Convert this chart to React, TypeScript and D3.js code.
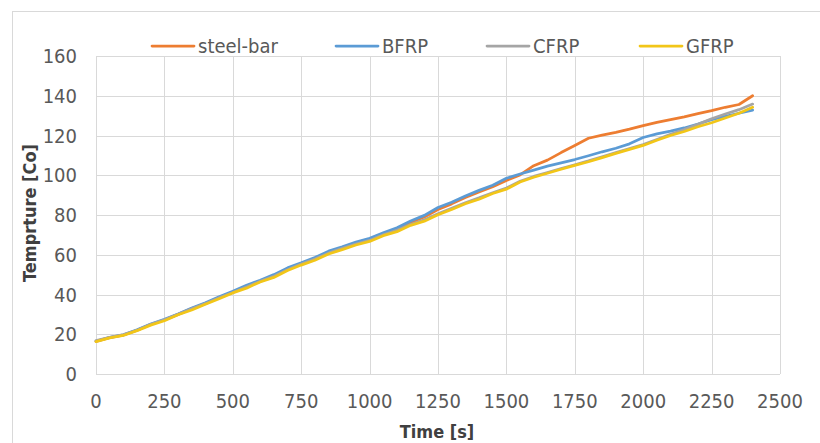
import React, { useRef, useEffect } from 'react';
import * as d3 from 'd3';

// time axis, seconds
const times = [0, 50, 100, 150, 200, 250, 300, 350, 400, 450, 500, 550, 600, 650, 700, 750, 800, 850, 900, 950,
  1000, 1050, 1100, 1150, 1200, 1250, 1300, 1350, 1400, 1450, 1500, 1550, 1600, 1650, 1700, 1750, 1800, 1850, 1900, 1950,
  2000, 2050, 2100, 2150, 2200, 2250, 2300, 2350, 2400];

const steelBar = [16.4, 18.3, 19.6, 22.0, 24.9, 27.2, 30.0, 32.9, 35.5, 38.5, 41.2, 44.2, 46.8, 49.6, 52.9, 55.6, 58.2, 61.2, 63.6, 65.9,
  67.8, 70.5, 73.0, 76.2, 79.0, 82.8, 85.6, 88.8, 91.6, 94.2, 97.4, 100.2, 104.8, 107.6, 111.4, 115.0, 118.6, 120.2, 121.6, 123.2,
  125.0, 126.6, 128.0, 129.4, 131.0, 132.5, 134.2, 135.6, 140.0];
const bfrp = [16.5, 18.4, 19.7, 22.2, 25.1, 27.5, 30.2, 33.2, 35.8, 38.8, 41.6, 44.6, 47.2, 50.0, 53.4, 55.9, 58.6, 61.8, 64.0, 66.4,
  68.3, 71.0, 73.6, 77.0, 79.8, 83.8, 86.4, 89.6, 92.4, 95.0, 98.5, 100.6, 102.6, 104.6, 106.2, 107.9, 109.8, 111.8, 113.6, 115.8,
  119.0, 120.8, 122.2, 123.8, 125.8, 128.0, 129.6, 131.2, 132.8];
const cfrp = [16.8, 18.5, 19.8, 22.0, 25.0, 27.3, 30.0, 32.8, 35.4, 38.4, 41.0, 43.8, 46.6, 49.2, 52.4, 55.3, 57.8, 60.8, 63.2, 65.4,
  67.2, 70.0, 72.3, 75.2, 77.6, 80.6, 83.4, 86.2, 88.6, 91.2, 93.6, 97.0, 99.4, 101.4, 103.4, 105.3, 107.2, 109.3, 111.4, 113.4,
  115.5, 118.0, 120.6, 123.0, 125.6, 128.4, 130.8, 133.0, 135.8];
const gfrp = [16.3, 18.2, 19.4, 21.8, 24.6, 26.8, 29.8, 32.2, 35.1, 37.9, 40.8, 43.2, 46.3, 48.6, 52.1, 54.8, 57.2, 60.4, 62.6, 64.9,
  66.7, 69.6, 71.6, 74.8, 76.9, 80.1, 82.8, 85.7, 87.9, 90.8, 93.0, 96.6, 99.0, 101.0, 103.0, 105.0, 106.8, 108.9, 111.0, 113.0,
  115.0, 117.6, 120.0, 122.0, 124.4, 126.4, 128.8, 131.2, 134.2];

const seriesNames = ["steel-bar", "BFRP", "CFRP", "GFRP"];
const seriesValues = [steelBar, bfrp, cfrp, gfrp];
const seriesColors = ["#ED7D31", "#5B9BD5", "#A5A5A5", "#F2C618"];

const xTicks = [0, 250, 500, 750, 1000, 1250, 1500, 1750, 2000, 2250, 2500];
const yTicks = [0, 20, 40, 60, 80, 100, 120, 140, 160];

const FONT = "'Liberation Sans Narrow', 'DejaVu Sans Condensed', 'Liberation Sans', sans-serif";

export default function App() {
  const svgRef = useRef(null);

  useEffect(() => {
    const W = 820, H = 443;
    const plot = { left: 96, right: 780, top: 56, bottom: 374 };
    const svg = d3.select(svgRef.current).attr('width', W).attr('height', H);
    svg.selectAll('*').remove();

    svg.append('rect').attr('width', W).attr('height', H).attr('fill', '#ffffff');
    // chart border
    svg.append('rect')
      .attr('x', 12.5).attr('y', 11.5).attr('width', W).attr('height', H)
      .attr('fill', 'none').attr('stroke', '#D9D9D9').attr('stroke-width', 1);

    const x = d3.scaleLinear().domain([0, 2500]).range([plot.left, plot.right]);
    const y = d3.scaleLinear().domain([0, 160]).range([plot.bottom, plot.top]);

    // gridlines
    const grid = svg.append('g').attr('stroke', '#D9D9D9').attr('stroke-width', 1);
    xTicks.forEach(t => {
      grid.append('line')
        .attr('x1', Math.round(x(t)) + 0.5).attr('x2', Math.round(x(t)) + 0.5)
        .attr('y1', plot.top).attr('y2', plot.bottom);
    });
    yTicks.forEach(t => {
      grid.append('line')
        .attr('x1', plot.left).attr('x2', plot.right)
        .attr('y1', Math.round(y(t)) + 0.5).attr('y2', Math.round(y(t)) + 0.5);
    });

    // tick labels
    svg.append('g').selectAll('text').data(xTicks).enter().append('text')
      .attr('x', d => x(d)).attr('y', 408)
      .attr('text-anchor', 'middle')
      .attr('font-family', FONT).attr('font-size', 20).attr('fill', '#595959')
      .text(d => d);
    svg.append('g').selectAll('text').data(yTicks).enter().append('text')
      .attr('x', 77).attr('y', d => y(d) + 7)
      .attr('text-anchor', 'end')
      .attr('font-family', FONT).attr('font-size', 20).attr('fill', '#595959')
      .text(d => d);

    // axis titles
    svg.append('text')
      .attr('x', 437).attr('y', 438)
      .attr('text-anchor', 'middle')
      .attr('font-family', FONT).attr('font-size', 18).attr('font-weight', 'bold').attr('fill', '#404040')
      .text('Time [s]');
    svg.append('text')
      .attr('transform', 'translate(36,213) rotate(-90)')
      .attr('text-anchor', 'middle')
      .attr('font-family', FONT).attr('font-size', 18).attr('font-weight', 'bold').attr('fill', '#404040')
      .text('Temprture [Co]');

    // data lines
    const line = d3.line()
      .x((d, i) => x(times[i]))
      .y(d => y(d));
    seriesValues.forEach((vals, k) => {
      svg.append('path')
        .datum(vals)
        .attr('fill', 'none')
        .attr('stroke', seriesColors[k])
        .attr('stroke-width', 2.75)
        .attr('stroke-linejoin', 'round')
        .attr('stroke-linecap', 'round')
        .attr('d', line);
    });

    // legend
    const legendX = [152, 336, 487, 640];
    const legend = svg.selectAll('.legend')
      .data(seriesNames)
      .enter().append('g')
      .attr('class', 'legend')
      .attr('transform', (d, i) => `translate(${legendX[i]},46)`);
    legend.append('line')
      .attr('x1', 0).attr('x2', 42).attr('y1', 0).attr('y2', 0)
      .attr('stroke', (d, i) => seriesColors[i]).attr('stroke-width', 2.75)
      .attr('stroke-linecap', 'round');
    legend.append('text')
      .attr('x', 46).attr('y', 7)
      .attr('font-family', FONT).attr('font-size', 20).attr('fill', '#595959')
      .text(d => d);

    return () => { d3.select(svgRef.current).selectAll('*').remove(); };
  }, []);

  return (
    <svg ref={svgRef} style={{ position: 'absolute', left: 0, top: 0, display: 'block' }}></svg>
  );
}
